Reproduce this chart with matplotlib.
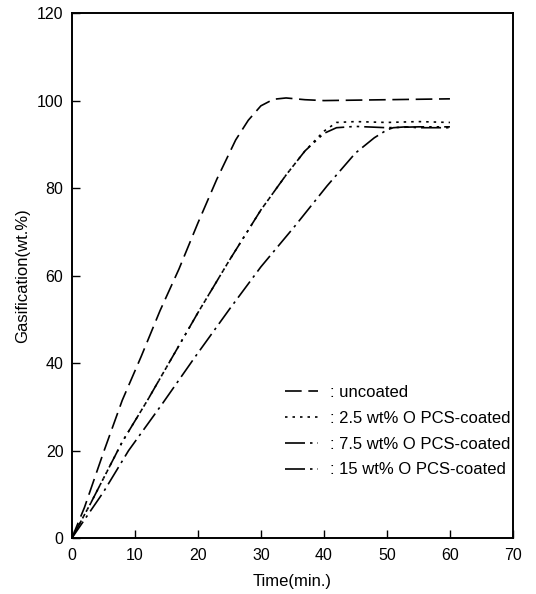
import matplotlib
matplotlib.use("Agg")
import matplotlib.pyplot as plt

plt.rcParams['font.family'] = ['Liberation Sans', 'DejaVu Sans']

# values
t_uncoated = [0, 2, 5, 8, 11, 14, 17, 20, 23, 26, 28, 30, 32, 34, 37, 40, 45, 50, 55, 60]
g_uncoated = [0, 7, 19.5, 31.5, 41.5, 52, 61.5, 72, 82, 91, 95.5, 98.8, 100.3, 100.6, 100.2,
              100, 100.1, 100.2, 100.3, 100.4]

t_25 = [0, 3, 8, 12, 15, 20, 25, 30, 34, 37, 40, 42, 45, 50, 55, 60]
g_25 = [0, 8, 22, 31.5, 39, 51.5, 63.5, 75, 83, 88.5, 93, 95, 95.2, 95, 95.2, 95]

t_75 = [0, 5, 9, 14.5, 19.5, 25, 30, 35.5, 40.5, 45, 48, 50, 51, 53, 55, 60]
g_75 = [0, 10.5, 20, 31, 41.3, 52.3, 62, 71.5, 80.5, 88, 91.5, 93.3, 93.8, 94, 93.8, 93.8]

t_15 = [0, 3, 8, 12, 15, 20, 25, 30, 34, 37, 40, 42, 45, 50, 55, 60]
g_15 = [0, 8, 22, 31.5, 39, 51.5, 63.5, 75, 83, 88.5, 92.5, 93.8, 94.1, 93.8, 94, 94]

labels = [': uncoated', ': 2.5 wt% O PCS-coated',
          ': 7.5 wt% O PCS-coated', ': 15 wt% O PCS-coated']

fig = plt.figure(figsize=(5.36, 5.94), dpi=100)
ax = fig.add_axes([0.134, 0.094, 0.823, 0.884])

lw = 1.2
ax.plot(t_uncoated, g_uncoated, color='black', lw=lw, linestyle=(0, (10, 4)), label=labels[0])
ax.plot(t_25, g_25, color='black', lw=lw, linestyle=(0, (1.5, 3)), label=labels[1])
ax.plot(t_75, g_75, color='black', lw=lw, linestyle=(0, (12, 3, 1.5, 3)), label=labels[2])
ax.plot(t_15, g_15, color='black', lw=lw, linestyle=(0, (12, 3, 1.5, 3, 1.5, 3)), label=labels[3])

ax.set_xlim(0, 70)
ax.set_ylim(0, 120)
ax.set_xticks(range(0, 71, 10))
ax.set_yticks(range(0, 121, 20))
ax.tick_params(direction='in', length=6, width=1, labelsize=11.5)
ax.tick_params(axis='x', pad=7)
ax.tick_params(axis='y', pad=6)
for s in ax.spines.values():
    s.set_linewidth(1.4)

ax.set_xlabel('Time(min.)', fontsize=12, labelpad=8)
ax.set_ylabel('Gasification(wt.%)', fontsize=12, labelpad=5)

ax.legend(loc='upper left', bbox_to_anchor=(0.483, 0.292), frameon=False,
          fontsize=12, handlelength=2.0, handletextpad=0.7, labelspacing=0.65,
          borderpad=0, borderaxespad=0)

fig.savefig('out.png', dpi=100)
